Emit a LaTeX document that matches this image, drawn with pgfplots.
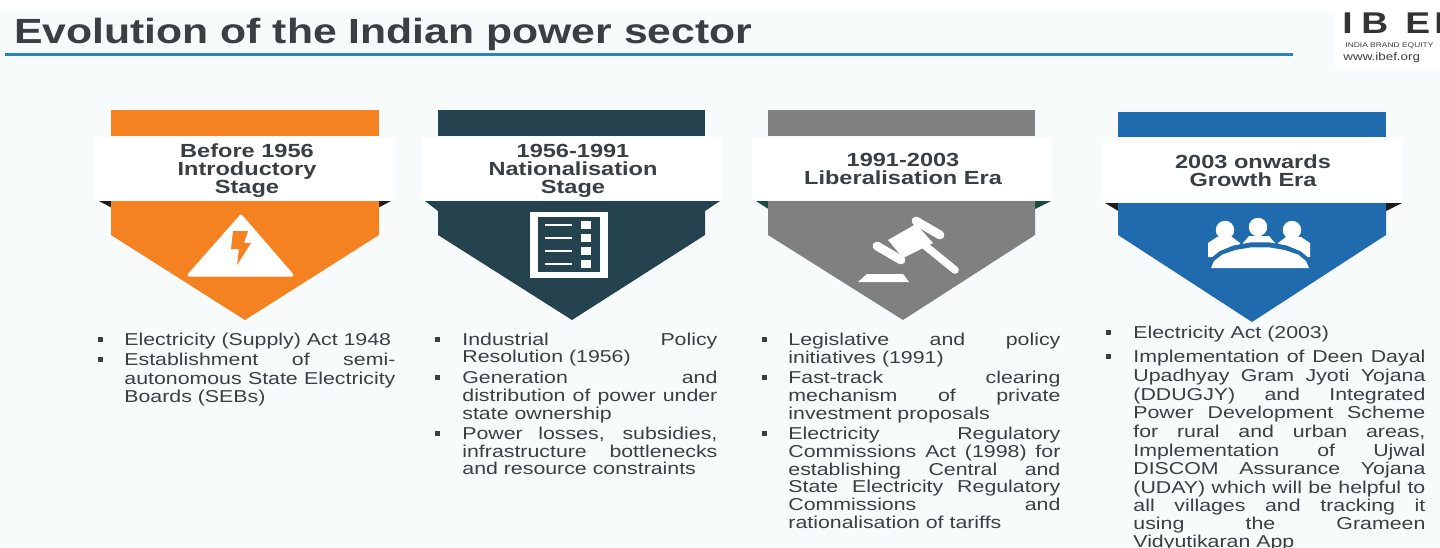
\documentclass[border=0pt]{standalone}
\usepackage{fontspec}
\setmainfont{Liberation Sans}[FakeStretch=1.24]
\newfontfamily\titlefont{Liberation Sans}[FakeStretch=1.22]
\usepackage{pgfplots}
\pgfplotsset{compat=1.18}
\definecolor{pageBg}{HTML}{F8FBFC}
\definecolor{txt}{HTML}{3A3F44}
\definecolor{cOrange}{HTML}{F58220}
\definecolor{cDark}{HTML}{24434F}
\definecolor{cGrey}{HTML}{808080}
\definecolor{cBlue}{HTML}{1F6BAE}
\definecolor{rule}{HTML}{2F80C2}
\definecolor{earGreen}{HTML}{1B4A3C}
\definecolor{earBlack}{HTML}{1C1C1C}
% x in px, y in px (baseline), width in pt, justified line
\newcommand{\J}[4]{\node[anchor=base west,inner sep=0pt,text=txt,font=\fontsize{8.6}{9}\selectfont] at (axis cs:#1,#2+6) {\makebox[#3pt][s]{#4}};}
\newcommand{\Lf}[3]{\node[anchor=base west,inner sep=0pt,text=txt,font=\fontsize{8.6}{9}\selectfont] at (axis cs:#1,#2+6) {#3};}
\newcommand{\Hd}[3]{\node[anchor=base,inner sep=0pt,text=txt,font=\fontsize{9.5}{9}\selectfont\bfseries] at (axis cs:#1,#2+6) {#3};}
\newcommand{\Lg}[2]{\node[anchor=base west,inner sep=0pt,text=black!80,font=\fontsize{15}{15}\selectfont\bfseries] at (axis cs:#1,33) {#2};}
\begin{document}
\begin{tikzpicture}
\begin{axis}[
  scale only axis,
  width=720pt, height=273.5pt,
  xmin=0, xmax=1440, ymin=0, ymax=547,
  y dir=reverse,
  hide axis,
]
% page background
\addplot[fill=pageBg,draw=none] coordinates {(0,12)(1440,12)(1440,547)(0,547)} --cycle;
\addplot[fill=white,draw=none] coordinates {(0,0)(1440,0)(1440,12)(0,12)} --cycle;
\addplot[fill=white,draw=none] coordinates {(1335,0)(1440,0)(1440,70)(1335,70)} --cycle;
% title rule
\addplot[rule,line width=1.5pt] coordinates {(5,54)(1293,54)};

% white header bands
\addplot[fill=white,draw=none] coordinates {(95,137)(395,137)(395,200)(95,200)} --cycle;
\addplot[fill=white,draw=none] coordinates {(422,137)(722,137)(722,200)(422,200)} --cycle;
\addplot[fill=white,draw=none] coordinates {(752,137)(1052,137)(1052,200)(752,200)} --cycle;
\addplot[fill=white,draw=none] coordinates {(1102,138)(1402,138)(1402,202)(1102,202)} --cycle;

% orange
\addplot[fill=cOrange,draw=none] coordinates {(111,110)(379,110)(379,136)(111,136)} --cycle;
\addplot[fill=earBlack,draw=none] coordinates {(99,201)(116,201)(116,210)} --cycle;
\addplot[fill=earBlack,draw=none] coordinates {(391,201)(374,201)(374,210)} --cycle;
\addplot[fill=cOrange,draw=none] coordinates {(111,201)(379,201)(379,235)(245,320)(111,235)} --cycle;
% dark
\addplot[fill=cDark,draw=none] coordinates {(438,110)(705,110)(705,136)(438,136)} --cycle;
\addplot[fill=cDark,draw=none] coordinates {(425,201)(720,201)(705,211)(705,235)(572,320)(438,235)(438,211)} --cycle;
% grey
\addplot[fill=cGrey,draw=none] coordinates {(768,110)(1035,110)(1035,136)(768,136)} --cycle;
\addplot[fill=earGreen,draw=none] coordinates {(756,201)(770,201)(770,210)} --cycle;
\addplot[fill=earGreen,draw=none] coordinates {(1051,201)(1033,201)(1033,210)} --cycle;
\addplot[fill=cGrey,draw=none] coordinates {(768,201)(1035,201)(1035,235)(903,320)(768,235)} --cycle;
% blue
\addplot[fill=cBlue,draw=none] coordinates {(1118,112)(1386,112)(1386,137)(1118,137)} --cycle;
\addplot[fill=earBlack,draw=none] coordinates {(1105,203)(1120,203)(1120,212)} --cycle;
\addplot[fill=earBlack,draw=none] coordinates {(1402,203)(1384,203)(1384,212)} --cycle;
\addplot[fill=cBlue,draw=none] coordinates {(1118,203)(1386,203)(1386,235)(1252,322)(1118,235)} --cycle;

% warning icon
\addplot[fill=white,draw=white,line width=1.5pt,line join=round] coordinates {(241,216)(292,275)(189,275)} --cycle;
\addplot[fill=cOrange,draw=none] coordinates {(233,231)(248,231)(244,243)(251,243)(237,265)(239,249)(231,249)} --cycle;
% list icon
\addplot[fill=white,draw=none] coordinates {(530,212)(608,212)(608,278)(530,278)} --cycle;
\addplot[fill=cDark,draw=none] coordinates {(538,217)(600,217)(600,272)(538,272)} --cycle;
\addplot[white,line width=1.2pt] coordinates {(545,225)(572,225)};
\addplot[white,line width=1.2pt] coordinates {(545,238)(572,238)};
\addplot[white,line width=1.2pt] coordinates {(545,251)(572,251)};
\addplot[white,line width=1.2pt] coordinates {(545,264)(572,264)};
\addplot[fill=white,draw=none] coordinates {(581,221)(591,221)(591,229)(581,229)} --cycle;
\addplot[fill=white,draw=none] coordinates {(581,234)(591,234)(591,242)(581,242)} --cycle;
\addplot[fill=white,draw=none] coordinates {(581,247)(591,247)(591,255)(581,255)} --cycle;
\addplot[fill=white,draw=none] coordinates {(581,260)(591,260)(591,268)(581,268)} --cycle;
% gavel icon
\addplot[white,line width=3.8pt,line cap=round] coordinates {(923,244)(955,270)};
\addplot[white,line width=4.4pt,line cap=round] coordinates {(916,221)(940,235)};
\addplot[white,line width=4.4pt,line cap=round] coordinates {(877,246)(901,260)};
\addplot[fill=white,draw=none] coordinates {(888,240)(916,224)(933,243)(903,258)} --cycle;
\addplot[fill=white,draw=none] coordinates {(858,282)(909,282)(903,274)(867,274)} --cycle;
% people icon
\addplot[fill=white,draw=none] coordinates {(1208,257)(1208,243)(1217,237)(1232,237)(1240,243)(1240,258)} --cycle;
\addplot[fill=white,draw=none] coordinates {(1243,250)(1243,243)(1249,236)(1269,236)(1275,243)(1275,250)} --cycle;
\addplot[fill=white,draw=none] coordinates {(1310,257)(1310,243)(1301,237)(1286,237)(1278,243)(1278,258)} --cycle;
\addplot[white,only marks,mark=*,mark size=4.4pt,mark options={fill=white,draw=white}] coordinates {(1225,230)(1258,227)(1292,230)};
\addplot[fill=cBlue,draw=none] coordinates {(1313,268)(1310,259)(1300.6,251.3)(1286.5,245.5)(1269.2,242.4)(1250.8,242.4)(1233.5,245.5)(1219.4,251.3)(1210,259)(1207,268)} --cycle;
\addplot[fill=white,draw=none] coordinates {(1309,268)(1306,261)(1298,254.5)(1284.5,250)(1268.5,247.3)(1251.5,247.3)(1235.5,250)(1222.5,254.5)(1214,261)(1211,268)} --cycle;

% bullets
\addplot[txt,only marks,mark=square*,mark size=1pt,mark options={fill=txt,draw=txt}] coordinates {
  (100,339)(100,359)
  (437,339)(437,377)(437,433)
  (764,339)(764,377)(764,433)
  (1108,332)(1108,356)};

% title and logo
\node[anchor=base west,inner sep=0pt,text=txt,font=\titlefont\fontsize{17.5}{18}\selectfont\bfseries] at (axis cs:14,43) {Evolution of the Indian power sector};
\Lg{1342}{I}
\Lg{1361}{B}
\Lg{1405}{E}
\Lg{1434}{F}
\node[anchor=base west,inner sep=0pt,text=txt,font=\fontsize{3.4}{5}\selectfont] at (axis cs:1345,47) {INDIA BRAND EQUITY};
\node[anchor=base west,inner sep=0pt,text=txt,font=\fontsize{5.4}{6}\selectfont] at (axis cs:1343,60) {www.ibef.org};

% headers
\Hd{247}{151}{Before 1956}
\Hd{247}{169}{Introductory}
\Hd{247}{187}{Stage}
\Hd{573}{151}{1956-1991}
\Hd{573}{169}{Nationalisation}
\Hd{573}{187}{Stage}
\Hd{903}{160}{1991-2003}
\Hd{903}{178}{Liberalisation Era}
\Hd{1253}{162}{2003 onwards}
\Hd{1253}{180}{Growth Era}

% column 1
\Lf{124}{339}{Electricity (Supply) Act 1948}
\J{124}{359}{135.5}{Establishment of semi-}
\J{124}{378}{135.5}{autonomous State Electricity}
\Lf{124}{396}{Boards (SEBs)}
% column 2
\J{462}{339}{127.5}{Industrial Policy}
\Lf{462}{356}{Resolution (1956)}
\J{462}{377}{127.5}{Generation and}
\J{462}{395}{127.5}{distribution of power under}
\Lf{462}{413}{state ownership}
\J{462}{433}{127.5}{Power losses, subsidies,}
\J{462}{451}{127.5}{infrastructure bottlenecks}
\Lf{462}{468}{and resource constraints}
% column 3
\J{788}{339}{136}{Legislative and policy}
\Lf{788}{357}{initiatives (1991)}
\J{788}{377}{136}{Fast-track clearing}
\J{788}{395}{136}{mechanism of private}
\Lf{788}{413}{investment proposals}
\J{788}{433}{136}{Electricity Regulatory}
\J{788}{451}{136}{Commissions Act (1998) for}
\J{788}{469}{136}{establishing Central and}
\J{788}{486}{136}{State Electricity Regulatory}
\J{788}{504}{136}{Commissions and}
\Lf{788}{522}{rationalisation of tariffs}
% column 4
\Lf{1133}{332}{Electricity Act (2003)}
\J{1133}{356}{146}{Implementation of Deen Dayal}
\J{1133}{375}{146}{Upadhyay Gram Jyoti Yojana}
\J{1133}{394}{146}{(DDUGJY) and Integrated}
\J{1133}{412}{146}{Power Development Scheme}
\J{1133}{431}{146}{for rural and urban areas,}
\J{1133}{450}{146}{Implementation of Ujwal}
\J{1133}{468}{146}{DISCOM Assurance Yojana}
\J{1133}{487}{146}{(UDAY) which will be helpful to}
\J{1133}{505}{146}{all villages and tracking it}
\J{1133}{523}{146}{using the Grameen}
\Lf{1133}{541}{Vidyutikaran App}
\end{axis}
\end{tikzpicture}
\end{document}
